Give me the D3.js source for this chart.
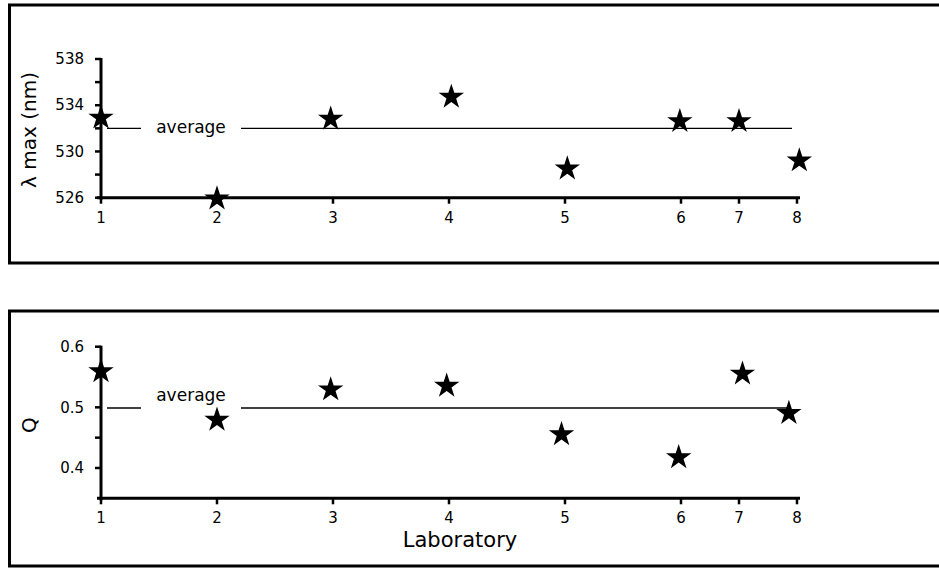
<!DOCTYPE html>
<html>
<head>
<meta charset="utf-8">
<script src="https://cdn.jsdelivr.net/npm/d3@7"></script>
<style>
  body { margin: 0; background: #fff; }
  svg { display: block; font-family: 'DejaVu Sans', 'Liberation Sans', sans-serif; }
</style>
</head>
<body>
<svg id="chart" width="939" height="568"></svg>
<script>
// labs and where they sit along the axis (6-8 are squeezed together)
const labs = ['1', '2', '3', '4', '5', '6', '7', '8']
const labPos = [1, 2, 3, 4, 5, 6, 6.5, 7]

// top panel: lambda max (nm)
const lambdaX = [1, 2, 2.98, 4.02, 5.02, 5.99, 6.5, 7.02]
const lambdaMax = [533.0, 526.0, 532.9, 534.8, 528.6, 532.7, 532.7, 529.3]
const lambdaAvg = 532
const lambdaTicks = [526, 528, 530, 532, 534, 536, 538]
const lambdaLabels = [526, 530, 534, 538]

// bottom panel: Q
const qX = [1, 2, 2.98, 3.98, 4.97, 5.98, 6.53, 6.93]
const qVals = [0.561, 0.481, 0.531, 0.537, 0.457, 0.419, 0.557, 0.492]
const qAvg = 0.499
const qTicks = [0.4, 0.45, 0.5, 0.55, 0.6]
const qLabels = [0.4, 0.5, 0.6]

const svg = d3.select('#chart')

const x = d3.scaleLinear().domain([1, 7]).range([101, 797])

const star = d3.symbol().type(d3.symbolStar).size(200)

function panel (opt) {
  const g = svg.append('g')

  // frame, open on the right
  g.append('path')
    .attr('d', `M939,${opt.top} H9.5 V${opt.bottom} H939`)
    .attr('fill', 'none')
    .attr('stroke', '#000')
    .attr('stroke-width', 3)

  const y = d3.scaleLinear().domain(opt.domain).range(opt.range)

  // average line, gap for the label
  g.append('line')
    .attr('x1', x(1) + 6).attr('x2', opt.avgEnd)
    .attr('y1', y(opt.avg)).attr('y2', y(opt.avg))
    .attr('stroke', '#000').attr('stroke-width', 1.4)
  g.append('rect')
    .attr('x', 141).attr('width', 100)
    .attr('y', y(opt.avg) - 3).attr('height', 6)
    .attr('fill', '#fff')
  g.append('text')
    .attr('x', 191).attr('y', y(opt.avg) + opt.avgDy)
    .attr('text-anchor', 'middle')
    .attr('font-size', 17)
    .text('average')

  // x axis
  const xAxis = g.append('g')
    .attr('transform', `translate(0,${opt.range[0]})`)
  xAxis.append('line')
    .attr('x1', 97).attr('x2', 800)
    .attr('stroke', '#000').attr('stroke-width', 3)
  xAxis.selectAll('.xt')
    .data(labs)
    .enter().append('line')
    .attr('x1', (d, i) => x(labPos[i])).attr('x2', (d, i) => x(labPos[i]))
    .attr('y1', 0).attr('y2', 6)
    .attr('stroke', '#000').attr('stroke-width', 2.5)
  xAxis.selectAll('.xl')
    .data(labs)
    .enter().append('text')
    .attr('x', (d, i) => x(labPos[i]))
    .attr('y', 25)
    .attr('text-anchor', 'middle')
    .attr('font-size', 15)
    .text(d => d)

  // y axis
  const yAxis = g.append('g').attr('transform', `translate(${x(1)},0)`)
  yAxis.append('line')
    .attr('y1', opt.range[0] + 2).attr('y2', y(opt.domain[1]) - 1)
    .attr('stroke', '#000').attr('stroke-width', 3)
  yAxis.selectAll('.yt')
    .data(opt.ticks)
    .enter().append('line')
    .attr('x1', -6).attr('x2', 0)
    .attr('y1', d => y(d)).attr('y2', d => y(d))
    .attr('stroke', '#000').attr('stroke-width', 2.5)
  yAxis.selectAll('.yl')
    .data(opt.labels)
    .enter().append('text')
    .attr('x', -17)
    .attr('y', d => y(d))
    .attr('dy', '0.35em')
    .attr('text-anchor', 'end')
    .attr('font-size', 15)
    .text(opt.fmt)

  // y title
  g.append('text')
    .attr('transform', `translate(${opt.titleX},${opt.titleY}) rotate(-90)`)
    .attr('text-anchor', 'middle')
    .attr('dy', '0.35em')
    .attr('font-size', 20)
    .text(opt.title)

  // stars
  g.selectAll('.star')
    .data(opt.vals)
    .enter().append('path')
    .attr('d', star)
    .attr('transform', (d, i) => `translate(${x(opt.xs[i])},${y(d) + 1})`)
    .attr('fill', '#000')

  return g
}

panel({
  top: 5, bottom: 263,
  domain: [526, 538], range: [197.7, 59],
  avg: lambdaAvg, avgEnd: 792, avgDy: 5,
  ticks: lambdaTicks, labels: lambdaLabels, fmt: d => d,
  title: 'λ max (nm)', titleX: 29, titleY: 130,
  xs: lambdaX, vals: lambdaMax
})

const bottom = panel({
  top: 311, bottom: 566,
  domain: [0.35, 0.6], range: [498.3, 346.7],
  avg: qAvg, avgEnd: 790, avgDy: -7,
  ticks: qTicks, labels: qLabels, fmt: d3.format('.1f'),
  title: 'Q', titleX: 29, titleY: 425,
  xs: qX, vals: qVals
})

bottom.append('text')
  .attr('x', 460).attr('y', 547)
  .attr('text-anchor', 'middle')
  .attr('font-size', 21)
  .text('Laboratory')
</script>
</body>
</html>
